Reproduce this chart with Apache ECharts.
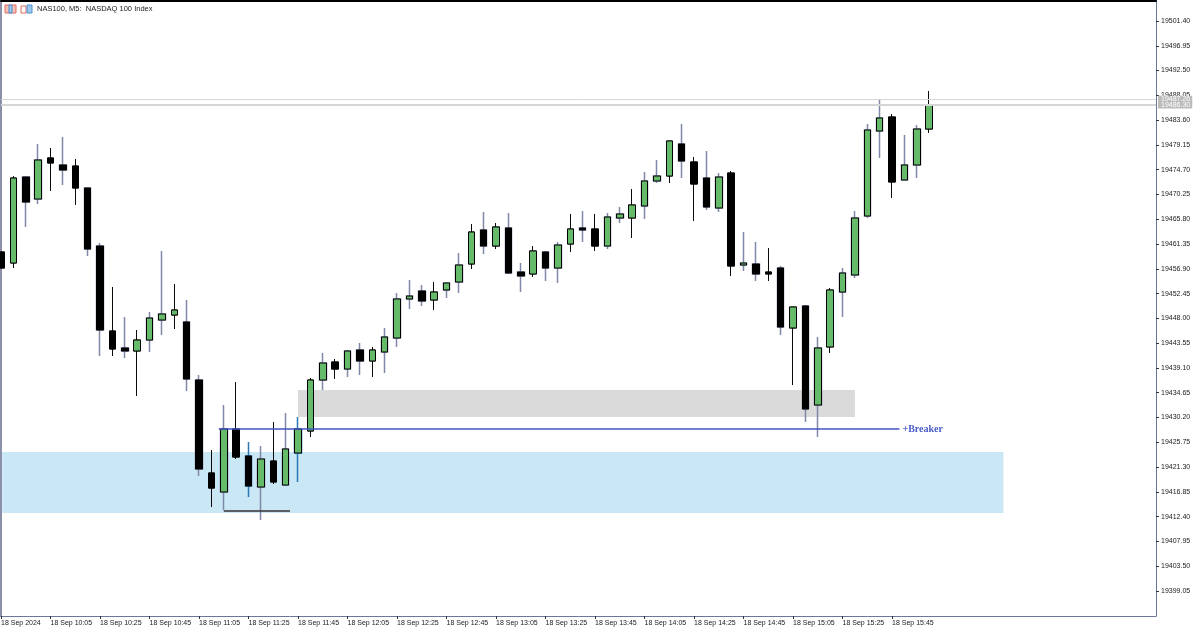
<!DOCTYPE html>
<html><head><meta charset="utf-8">
<style>html,body{margin:0;padding:0;background:#fff}#c{width:1200px;height:632px}</style>
<script src="https://cdn.jsdelivr.net/npm/echarts@6/dist/echarts.min.js"></script>
</head><body><div id="c"></div>
<script>
const opens=[19459.92,19457.94,19473.38,19469.43,19476.80,19475.54,19475.36,19471.41,19460.99,19445.73,19442.68,19442.14,19444.11,19447.70,19448.60,19447.35,19436.93,19420.23,19416.82,19428.13,19423.28,19417.71,19422.38,19418.07,19423.82,19427.77,19436.93,19440.16,19438.90,19442.32,19440.34,19441.96,19444.47,19451.48,19452.91,19451.30,19453.09,19454.53,19457.76,19463.87,19460.99,19464.23,19456.32,19455.97,19459.92,19457.04,19461.35,19464.23,19464.05,19460.99,19466.02,19466.02,19468.18,19472.67,19473.56,19479.31,19476.08,19473.20,19467.82,19474.10,19457.58,19457.76,19456.32,19457.04,19446.27,19450.22,19432.44,19442.86,19452.73,19455.79,19466.38,19481.64,19484.16,19472.85,19475.54,19482.00];
const closes=[19457.04,19473.20,19468.89,19476.44,19475.90,19474.64,19471.41,19460.45,19445.91,19442.50,19442.14,19444.11,19448.06,19448.78,19449.50,19437.11,19420.95,19417.53,19428.13,19423.10,19417.89,19422.74,19418.61,19424.54,19428.13,19436.93,19439.98,19438.90,19442.14,19440.34,19442.32,19444.65,19451.48,19452.01,19451.12,19452.73,19454.35,19457.58,19463.51,19460.99,19464.41,19456.14,19455.61,19460.10,19457.04,19461.17,19464.05,19463.87,19460.99,19466.20,19466.74,19468.36,19472.67,19473.56,19479.85,19476.26,19472.13,19468.00,19473.38,19457.40,19457.94,19455.97,19455.97,19446.45,19450.04,19431.72,19442.68,19453.09,19456.14,19466.02,19481.82,19483.98,19472.49,19475.54,19482.00,19486.31];
const lows=[19457.04,19457.04,19464.41,19468.54,19470.87,19471.95,19468.36,19459.20,19441.24,19441.24,19440.88,19434.06,19441.96,19445.01,19446.09,19434.95,19419.69,19414.12,19413.58,19422.74,19415.92,19411.79,19418.25,19418.07,19418.61,19426.69,19435.13,19437.11,19437.47,19437.83,19437.47,19438.19,19442.86,19449.68,19450.22,19449.50,19451.66,19452.55,19456.86,19459.56,19460.45,19456.14,19452.73,19455.43,19454.71,19454.35,19459.92,19461.71,19460.10,19460.45,19465.12,19462.43,19465.84,19472.31,19472.31,19473.20,19465.48,19467.46,19467.10,19455.61,19456.50,19454.71,19454.71,19445.01,19436.03,19429.39,19426.69,19441.78,19448.24,19455.25,19466.02,19476.80,19469.61,19472.85,19473.20,19481.29];
const highs=[19459.92,19473.56,19473.38,19479.31,19478.59,19480.57,19476.62,19471.41,19461.53,19453.63,19448.24,19445.91,19449.14,19460.10,19454.17,19451.30,19437.83,19424.36,19432.44,19436.57,19425.80,19425.08,19429.39,19431.00,19430.28,19437.29,19441.78,19440.70,19442.32,19443.57,19442.86,19446.27,19452.55,19454.89,19453.99,19454.53,19454.35,19459.74,19464.94,19467.10,19465.12,19466.92,19457.94,19460.99,19460.10,19461.71,19466.74,19467.28,19466.74,19466.92,19468.00,19471.23,19474.28,19476.44,19479.85,19482.90,19476.98,19478.05,19474.10,19474.46,19463.51,19461.71,19460.63,19457.40,19450.04,19450.40,19444.65,19453.45,19457.04,19467.28,19482.90,19487.39,19484.70,19480.93,19482.72,19488.83];
const wickTones="k k g g k g k g g k g k g g k g g k g k b g k g b k g k g g k g g g g k g g k g k g g k g g k g k g g k g g k g k g g k g g k g k g g k g g g g k g g k".split(" ");
const timeLabels=["18 Sep 2024","18 Sep 10:05","18 Sep 10:25","18 Sep 10:45","18 Sep 11:05","18 Sep 11:25","18 Sep 11:45","18 Sep 12:05","18 Sep 12:25","18 Sep 12:45","18 Sep 13:05","18 Sep 13:25","18 Sep 13:45","18 Sep 14:05","18 Sep 14:25","18 Sep 14:45","18 Sep 15:05","18 Sep 15:25","18 Sep 15:45"];
const timeTicks=[0,4,8,12,16,20,24,28,32,36,40,44,48,52,56,60,64,68,72];
const priceTicks=[19501.40,19496.95,19492.50,19488.05,19483.60,19479.15,19474.70,19470.25,19465.80,19461.35,19456.90,19452.45,19448.00,19443.55,19439.10,19434.65,19430.20,19425.75,19421.30,19416.85,19412.40,19407.95,19403.50,19399.05];
const priceLines=[19487.30,19486.36];
const priceTags=["19487.26","19486.30"];
const blueZone={x:[0.1,81],y:[19424.00,19413.05]};
const greyZone={x:[24,69],y:[19435.13,19430.28]};
const breakerLine={x:[17.6,72.6],y:19428.13,label:"+Breaker"};
const lowLine={x:[18,23.35],y:19413.50};

const GREEN="#66bb6a", AXIS="#6e7699", TXT="#1a1a1a", FONT="Liberation Sans";
const toneColor={k:"#0a0a0a",g:"#8087a8",b:"#2a78b5"};
const wickData=opens.map((o,i)=>({value:[i,o,closes[i],lows[i],highs[i]],itemStyle:{
  color:"#000",color0:"#000",borderColor:toneColor[wickTones[i]],borderColor0:toneColor[wickTones[i]],borderWidth:wickTones[i]==="k"?1:1.5}}));
const bodyData=opens.map((o,i)=>[i,o,closes[i],Math.min(o,closes[i]),Math.max(o,closes[i])]);

const chart=echarts.init(document.getElementById('c'),null,{renderer:'canvas'});
chart.setOption({
  animation:false,backgroundColor:"#fff",
  title:{text:"NAS100, M5:  NASDAQ 100 Index",left:32,top:0,textStyle:{fontFamily:FONT,fontSize:7.5,fontWeight:"normal",color:"#222",lineHeight:8}},
  grid:{left:1,right:44,top:0,height:616,outerBoundsMode:"none"},
  xAxis:[
   {type:"value",min:0,max:93.33,position:"bottom",splitLine:{show:false},
    axisLine:{show:true,onZero:false,lineStyle:{color:AXIS,width:1}},
    axisTick:{show:true,length:3,inside:false,customValues:timeTicks,lineStyle:{color:"#333",width:1}},
    axisLabel:{customValues:timeTicks,align:"left",margin:4,fontFamily:FONT,fontSize:7,color:TXT,
      formatter:v=>timeLabels[timeTicks.indexOf(v)]||""}},
   {type:"value",min:0,max:93.33,position:"top",offset:-1,splitLine:{show:false},
    axisLine:{show:true,onZero:false,lineStyle:{color:"#000",width:2}},axisTick:{show:false},axisLabel:{show:false}}
  ],
  yAxis:[
   {type:"value",min:19394.55,max:19505.17,position:"right",splitLine:{show:false},
    axisLine:{show:true,onZero:false,lineStyle:{color:AXIS,width:1}},
    axisTick:{show:true,length:3,customValues:priceTicks,lineStyle:{color:"#333",width:1}},
    axisLabel:{customValues:priceTicks,margin:5,fontFamily:FONT,fontSize:7,color:TXT,formatter:v=>v.toFixed(2)}},
   {type:"value",min:19394.55,max:19505.17,position:"left",splitLine:{show:false},
    axisLine:{show:true,onZero:false,lineStyle:{color:"#8a90a8",width:2}},axisTick:{show:false},axisLabel:{show:false}}
  ],
  series:[
   {type:"line",name:"zones",data:[],z:1,silent:true,
    markArea:{silent:true,itemStyle:{color:"#c9e7f5"},data:[
      [{xAxis:blueZone.x[0],yAxis:blueZone.y[0],itemStyle:{color:"#c9e7f5"}},{xAxis:blueZone.x[1],yAxis:blueZone.y[1]}],
      [{xAxis:greyZone.x[0],yAxis:greyZone.y[0],itemStyle:{color:"#dadada"}},{xAxis:greyZone.x[1],yAxis:greyZone.y[1]}]
    ]}},
   {type:"candlestick",name:"wicks",data:wickData,barWidth:7,z:3,silent:true},
   {type:"candlestick",name:"bodies",data:bodyData,barWidth:7,z:4,silent:true,
    itemStyle:{color:GREEN,color0:"#000",borderColor:"#000",borderColor0:"#000",borderWidth:1}},
   {type:"line",name:"lines",data:[],z:6,silent:true,
    markLine:{silent:true,symbol:"none",animation:false,data:[
      [{coord:[breakerLine.x[0],breakerLine.y],lineStyle:{color:"#4355c0",width:1.5,type:"solid"},
        label:{show:true,position:"end",formatter:breakerLine.label,distance:3,color:"#4a5cc8",fontFamily:"Liberation Serif",fontWeight:"bold",fontSize:10}},
       {coord:[breakerLine.x[1],breakerLine.y]}],
      [{coord:[lowLine.x[0],lowLine.y],lineStyle:{color:"#333",width:1.5,type:"solid"},label:{show:false}},
       {coord:[lowLine.x[1],lowLine.y]}]
    ]}},
   {type:"line",name:"price lines",data:[],z:7,silent:true,
    markLine:{silent:true,symbol:"none",animation:false,data:[
      {yAxis:priceLines[0],lineStyle:{color:"#d6d6d6",width:1,type:"solid"},
       label:{show:true,position:"end",formatter:priceTags[0],distance:2,color:"#fff",backgroundColor:"#bcbcbc",fontFamily:FONT,fontSize:7,lineHeight:6.5,padding:[1,2,0,3]}},
      {yAxis:priceLines[1],lineStyle:{color:"#d6d6d6",width:2,type:"solid"},
       label:{show:true,position:"end",formatter:priceTags[1],distance:2,color:"#fff",backgroundColor:"#bcbcbc",fontFamily:FONT,fontSize:7,lineHeight:6.5,padding:[0,2,1,3]}}
    ]}}
  ],
  graphic:[
   {type:"rect",shape:{x:5,y:5,width:11,height:8},style:{fill:"#f3c0b8",stroke:"#e06a5a",lineWidth:1}},
   {type:"rect",shape:{x:9,y:5,width:3,height:8},style:{fill:"#9cc8ea",stroke:"#4a8fd0",lineWidth:1}},
   {type:"rect",shape:{x:21,y:6,width:5,height:7},style:{fill:"#fff",stroke:"#e06a5a",lineWidth:1}},
   {type:"rect",shape:{x:27,y:5,width:5,height:8},style:{fill:"#9cc8ea",stroke:"#4a8fd0",lineWidth:1}}
  ]
});
</script></body></html>
